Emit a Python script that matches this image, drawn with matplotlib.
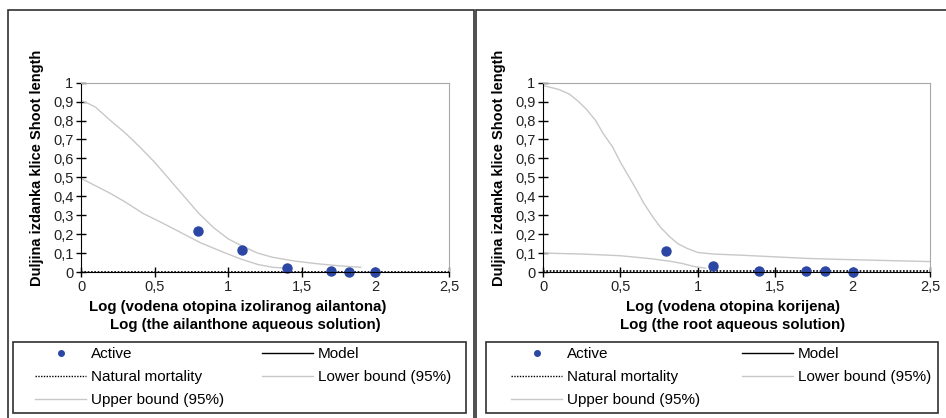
import matplotlib
matplotlib.use("Agg")
from matplotlib import pyplot as plt
from matplotlib.lines import Line2D
from matplotlib.patches import Rectangle

plt.rcParams['font.family'] = ['Liberation Sans', 'DejaVu Sans']

# log concentrations of the tested solutions
log_conc = [0.796, 1.097, 1.398, 1.699, 1.82, 2.0]

# ailanthone
active_ail = [0.218, 0.117, 0.022, 0.005, 0.001, 0.0]
upper_ail_x = [0, 0.05, 0.1, 0.2, 0.3, 0.4, 0.5, 0.6, 0.7, 0.8, 0.9, 1.0, 1.1, 1.2, 1.3, 1.45, 1.6, 1.75, 1.9]
upper_ail_y = [0.905, 0.89, 0.87, 0.80, 0.735, 0.66, 0.58, 0.49, 0.40, 0.31, 0.235, 0.175, 0.135,
               0.10, 0.078, 0.058, 0.044, 0.033, 0.025]
lower_ail_x = [0, 0.1, 0.2, 0.3, 0.42, 0.55, 0.65, 0.81, 0.95, 1.08, 1.2, 1.3, 1.4]
lower_ail_y = [0.495, 0.455, 0.415, 0.37, 0.31, 0.26, 0.22, 0.155, 0.11, 0.07, 0.04, 0.025, 0.02]
natural_ail = 0.0

# root
active_root = [0.11, 0.033, 0.005, 0.005, 0.005, 0.0]
upper_root_x = [0, 0.1, 0.17, 0.23, 0.28, 0.34, 0.39, 0.45, 0.5, 0.55, 0.6, 0.65, 0.71, 0.76,
                0.82, 0.87, 0.93, 1.0, 1.1, 1.3, 1.5, 1.7, 1.9, 2.1, 2.3, 2.5]
upper_root_y = [0.985, 0.965, 0.94, 0.90, 0.86, 0.80, 0.73, 0.66, 0.58, 0.51, 0.44, 0.365, 0.29,
                0.235, 0.185, 0.15, 0.125, 0.103, 0.095, 0.088, 0.08, 0.072, 0.067, 0.063, 0.059, 0.055]
lower_root_x = [0, 0.25, 0.5, 0.7, 0.82, 0.9, 0.97, 1.05]
lower_root_y = [0.10, 0.095, 0.086, 0.07, 0.057, 0.045, 0.03, 0.02]
natural_root = 0.004

y_ticks = [i / 10 for i in range(11)]
x_ticks = [0, 0.5, 1, 1.5, 2, 2.5]
ylabel = "Duljina izdanka klice Shoot length"
legend_col1 = ['Active', 'Natural mortality', 'Upper bound (95%)']
legend_col2 = ['Model', 'Lower bound (95%)']

W, H = 946, 418
fig = plt.figure(figsize=(W / 100, H / 100), dpi=100)
GRAY = '#c8c8c8'
BLUE = '#2b47a3'


def frac(x0, y0, x1, y1):
    return [x0 / W, 1 - y1 / H, (x1 - x0) / W, (y1 - y0) / H]


def comma(v):
    return f"{v:g}".replace('.', ',')


def panel(px0, px1, ax_x0, ax_x1, leg_x0, leg_x1, col1_x, col2_x, active, ux, uy, lx, ly, nat,
          xlab1, xlab2, xc1, xc2):
    # outer panel frame
    fig.patches.append(Rectangle((px0 / W, -0.1), (px1 - px0) / W, 1.1 - 10 / H,
                                 transform=fig.transFigure, fill=False,
                                 edgecolor='#303030', lw=1.2))
    ax = fig.add_axes(frac(ax_x0, 82.7, ax_x1, 272))
    ax.plot(ux, uy, color=GRAY, lw=1)
    ax.plot(lx, ly, color=GRAY, lw=1)
    ax.plot([0, 2.5], [nat, nat], color='black', lw=1.2, ls=(0, (1, 1)), clip_on=False)
    ax.plot(log_conc, active, 'o', color=BLUE, ms=6.5, clip_on=False)
    ax.set_xlim(0, 2.5)
    ax.set_ylim(0, 1)
    ax.set_xticks(x_ticks)
    ax.set_xticklabels([comma(v) for v in x_ticks])
    ax.set_yticks(y_ticks)
    ax.set_yticklabels([comma(v) for v in y_ticks])
    ax.tick_params(direction='inout', length=7, width=1, labelsize=10.5, pad=2,
                   colors='black', labelcolor='#222222')
    for s in ('top', 'right'):
        ax.spines[s].set_color('#a8a8a8')
    for s in ('left', 'bottom'):
        ax.spines[s].set_color('black')
    ax.set_ylabel(ylabel, fontsize=10.5, fontweight='bold')
    ax.yaxis.set_label_coords(-37 / (ax_x1 - ax_x0), 0.55)
    fig.text(xc1 / W, 1 - 307 / H, xlab1, ha='center', va='center', fontsize=10.8, fontweight='bold')
    fig.text(xc2 / W, 1 - 325 / H, xlab2, ha='center', va='center', fontsize=10.8, fontweight='bold')

    # legend box
    fig.patches.append(Rectangle((leg_x0 / W, 1 - 413 / H), (leg_x1 - leg_x0) / W, 71 / H,
                                 transform=fig.transFigure, fill=False,
                                 edgecolor='#303030', lw=1.2))
    h1 = [Line2D([], [], marker='o', ls='', color=BLUE, ms=4),
          Line2D([], [], color='black', lw=1, ls=(0, (1, 1))),
          Line2D([], [], color=GRAY, lw=1)]
    h2 = [Line2D([], [], color='black', lw=1),
          Line2D([], [], color=GRAY, lw=1)]
    opts = dict(loc='upper left', frameon=False, borderpad=0, borderaxespad=0,
                handlelength=3.35, handletextpad=0.3, labelspacing=0.6,
                bbox_transform=fig.transFigure, prop={'size': 11})
    fig.legend(h1, legend_col1, bbox_to_anchor=(col1_x / W, 1 - 347 / H), **opts)
    fig.legend(h2, legend_col2, bbox_to_anchor=(col2_x / W, 1 - 347 / H), **opts)
    return ax


panel(8, 474, 81, 449, 13, 466, 35, 262, active_ail, upper_ail_x, upper_ail_y, lower_ail_x,
      lower_ail_y, natural_ail,
      "Log (vodena otopina izoliranog ailantona)", "Log (the ailanthone aqueous solution)", 238, 245)
panel(476, 960, 543, 930, 486, 938, 511, 742, active_root, upper_root_x, upper_root_y, lower_root_x,
      lower_root_y, natural_root,
      "Log (vodena otopina korijena)", "Log (the root aqueous solution)", 733, 733)

fig.savefig("out.png", dpi=100)
